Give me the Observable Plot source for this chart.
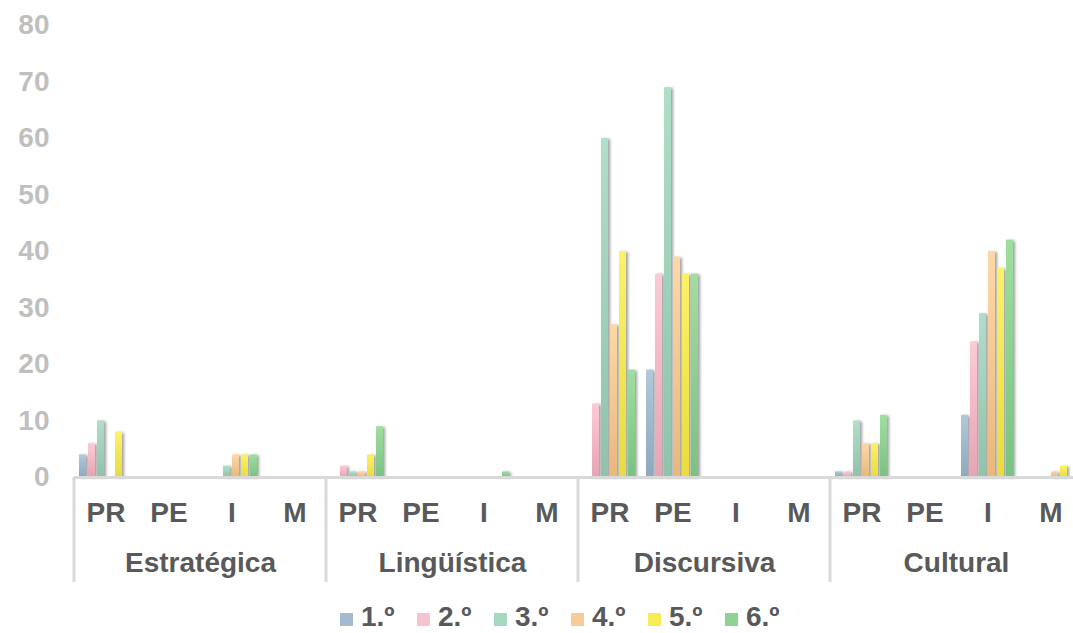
<!DOCTYPE html>
<html>
<head>
<meta charset="utf-8">
<script src="https://cdn.jsdelivr.net/npm/d3@7"></script>
<script src="https://cdn.jsdelivr.net/npm/@observablehq/plot@0.6"></script>
<style>
  html, body { margin: 0; padding: 0; background: #fff; overflow: hidden; width: 1073px; height: 633px; }
  #chart { position: absolute; left: 0; top: 0; width: 1090px; }
  #chart svg { max-width: none !important; }
  #chart svg g[aria-label="bar"] rect { filter: drop-shadow(2px 1px 1.5px rgba(0,0,0,0.38)); }
  #legend { position: absolute; left: 340px; top: 602px; font-family: "Liberation Sans", Arial, sans-serif; font-weight: bold; font-size: 28px; color: #595959; line-height: 30px; white-space: nowrap; }
  #legend .item { display: inline-block; width: 77px; }
  #legend .sw { display: inline-block; width: 13px; height: 13px; margin-right: 8px; vertical-align: baseline; }
</style>
</head>
<body>
<svg width="0" height="0" style="position:absolute">
  <defs id="grads"></defs>
</svg>
<div id="chart"></div>
<div id="legend"></div>
<script>
// ---- data ----
const groups = ["Estratégica", "Lingüística", "Discursiva", "Cultural"];
const subs = ["PR", "PE", "I", "M"];
const grades = ["1.º", "2.º", "3.º", "4.º", "5.º", "6.º"];
const yTicks = [0, 10, 20, 30, 40, 50, 60, 70, 80];
// values per grade over slots: Estratégica PR,PE,I,M | Lingüística ... | Discursiva ... | Cultural ...
const grade1 = [4, 0, 0, 0,  0, 0, 0, 0,  0, 19, 0, 0,  1, 0, 11, 0];
const grade2 = [6, 0, 0, 0,  2, 0, 0, 0,  13, 36, 0, 0,  1, 0, 24, 0];
const grade3 = [10, 0, 2, 0,  1, 0, 0, 0,  60, 69, 0, 0,  10, 0, 29, 0];
const grade4 = [0, 0, 4, 0,  1, 0, 0, 0,  27, 39, 0, 0,  6, 0, 40, 1];
const grade5 = [8, 0, 4, 0,  4, 0, 0, 0,  40, 36, 0, 0,  6, 0, 37, 2];
const grade6 = [0, 0, 4, 0,  9, 0, 1, 0,  19, 36, 0, 0,  11, 0, 42, 0];

// ---- styles ----
const colorsTop = ["#b2c8da", "#fbcbd6", "#b0dec8", "#fdd8a8", "#fcf266", "#a0dea0"];
const colorsBottom = ["#8ea8bf", "#e6a4b3", "#8fc3aa", "#e8b87c", "#e8dc40", "#7ac282"];
const legendColors = ["#a3bbcf", "#f6c3cf", "#a7d9c1", "#f8cc98", "#f8ec55", "#8fd393"];

const defs = d3.select("#grads");
grades.forEach((g, i) => {
  const lg = defs.append("linearGradient").attr("id", "g" + i)
    .attr("x1", 0).attr("y1", 0).attr("x2", 0).attr("y2", 1);
  lg.append("stop").attr("offset", "0%").attr("stop-color", colorsTop[i]);
  lg.append("stop").attr("offset", "100%").attr("stop-color", colorsBottom[i]);
});
const gradFill = Object.fromEntries(grades.map((g, i) => [g, `url(#g${i})`]));

const series = [grade1, grade2, grade3, grade4, grade5, grade6];
const slotKeys = groups.flatMap(g => subs.map(s => g + "|" + s));
const data = grades.flatMap((gr, i) =>
  slotKeys.map((k, j) => ({slot: k, grade: gr, value: series[i][j]}))
).filter(d => d.value > 0);

const font = "Liberation Sans, Arial, sans-serif";

const plot = Plot.plot({
  width: 1090,
  height: 590,
  marginLeft: 70,
  marginRight: 4,
  marginTop: 25,
  marginBottom: 113,
  style: {fontFamily: font, fontWeight: "bold", background: "white", overflow: "visible", maxWidth: "none"},
  fx: {domain: slotKeys, padding: 0, axis: null, label: null},
  x: {domain: grades, paddingInner: 0.22, paddingOuter: 0.4, axis: null},
  y: {domain: [0, 80], axis: null, label: null},
  color: {type: "identity"},
  marks: [
    Plot.barY(data, {fx: "slot", x: "grade", y: "value", fill: d => gradFill[d.grade]}),
    Plot.ruleY(slotKeys, {fx: d => d, y: d => 0, stroke: "#d9d9d9", strokeWidth: 3}),
    Plot.axisY({ticks: yTicks, tickSize: 0, tickPadding: 25, fontSize: 28, fill: "#bfbfbf",
      label: null}),
    Plot.axisFx({anchor: "bottom", label: null, tickFormat: d => d.split("|")[1], tickSize: 0,
      tickPadding: 25, fontSize: 28, fill: "#595959"}),
    Plot.text(groups, {fx: g => g + "|PE", text: d => d, frameAnchor: "bottom-right", dy: 86,
      textAnchor: "middle", lineAnchor: "middle", fontSize: 28, fill: "#595959"})
  ]
});
document.getElementById("chart").appendChild(plot);

// group divider lines positioned through Plot's scales
const fxs = plot.scale("fx");
const ys = plot.scale("y");
const y0 = ys.apply(0);
const svg = d3.select(plot);
groups.forEach(g => {
  const x = fxs.apply(g + "|PR");
  svg.append("line").attr("x1", x).attr("x2", x).attr("y1", y0).attr("y2", y0 + 105)
    .attr("stroke", "#d9d9d9").attr("stroke-width", 3);
});

// legend
const legend = d3.select("#legend");
grades.forEach((g, i) => {
  const it = legend.append("span").attr("class", "item");
  it.append("span").attr("class", "sw").style("background", legendColors[i]);
  it.append("span").text(g);
});
</script>
</body>
</html>
